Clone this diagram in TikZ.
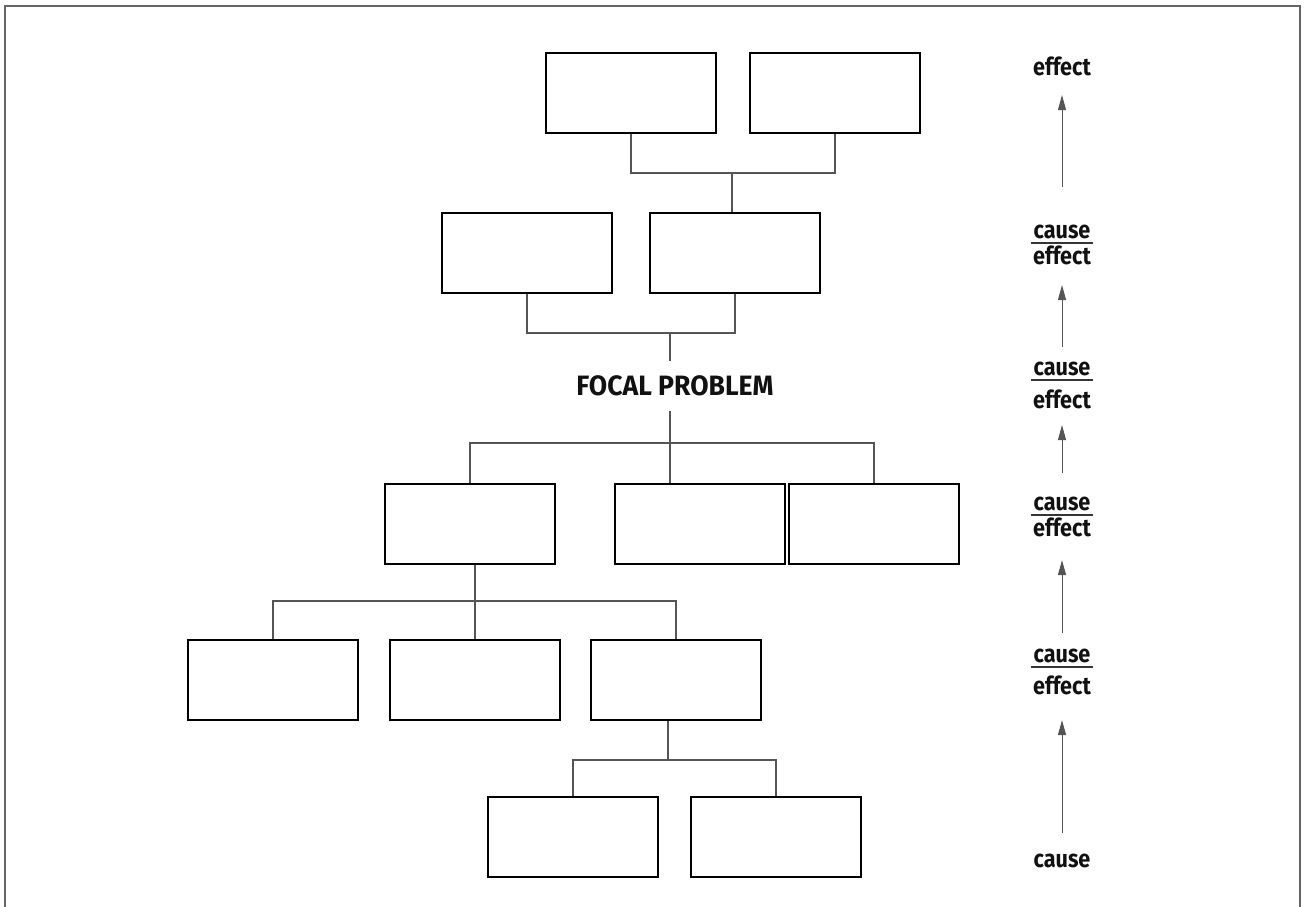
\documentclass[tikz,border=0pt]{standalone}
\usepackage{fontspec}
\setmainfont{Fira Sans}[FakeStretch=0.88]
\newfontfamily\headfont{Fira Sans}[FakeStretch=0.95]
\usetikzlibrary{arrows.meta,calc}
\definecolor{linegray}{HTML}{555555}
\definecolor{framegray}{HTML}{666666}
\definecolor{ink}{HTML}{111111}
\begin{document}
\begin{tikzpicture}[x=0.5pt,y=-0.5pt,
  box/.style={draw=black,line width=1.25pt,minimum width=85pt,minimum height=40pt,inner sep=0pt},
  conn/.style={draw=linegray,line width=0.6pt},
  arr/.style={draw=linegray,line width=0.5pt,-{Triangle[length=7.5pt,width=4pt]}},
  lab/.style={font=\bfseries\fontsize{12.3}{14}\selectfont,text=ink,inner sep=0pt,anchor=base},
  rulepen/.style={draw=ink!85,line width=0.7pt}
]
\useasboundingbox (0,0) rectangle (1308,906);
% outer frame (open at the bottom edge of the page)
\draw[framegray,line width=1pt] (5,930) -- (5,6) -- (1300,6) -- (1300,930);

% ---- effect boxes ----
\node[box] (A) at (631,93) {};
\node[box] (B) at (835,93) {};
\node[box] (C) at (527,253) {};
\node[box] (D) at (735,253) {};

% ---- focal problem ----
\node[font=\headfont\bfseries\fontsize{14}{16}\selectfont,text=ink,minimum height=25pt,inner sep=0pt] (focal) at (675,386) {FOCAL PROBLEM};

% ---- cause boxes ----
\node[box] (E) at (470,524) {};
\node[box] (F) at (700,524) {};
\node[box] (G) at (874,524) {};
\node[box] (H) at (273,680) {};
\node[box] (I) at (475,680) {};
\node[box] (J) at (676,680) {};
\node[box] (K) at (573,837) {};
\node[box] (L) at (776,837) {};

% ---- tree connectors ----
\coordinate (j1) at (732,173);
\draw[conn] (A.south) |- (j1) -| (B.south);
\draw[conn] (j1) -- (j1 |- D.north);

\coordinate (j2) at (670,333);
\draw[conn] (C.south) |- (j2) -| (D.south);
\draw[conn] (j2) -- (focal.north -| j2);

\coordinate (j3) at (670,443);
\draw[conn] (focal.south -| j3) -- (j3);
\draw[conn] (E.north) |- (j3) -| (G.north);
\draw[conn] (j3) -- (j3 |- F.north);

\coordinate (j4) at (475,601);
\draw[conn] (E.south -| j4) -- (j4);
\draw[conn] (H.north) |- (j4) -| (J.north);
\draw[conn] (j4) -- (I.north);

\coordinate (j5) at (668,760);
\draw[conn] (J.south -| j5) -- (j5);
\draw[conn] (K.north) |- (j5) -| (L.north);

% ---- cause / effect scale ----
\node[lab] (e0) at (1062,75) {effect};
\node[lab] (c1) at (1062,238) {cause};
\node[lab] (e1) at (1062,264) {effect};
\node[lab] (c2) at (1062,375) {cause};
\node[lab] (e2) at (1062,408) {effect};
\node[lab] (c3) at (1062,510) {cause};
\node[lab] (e3) at (1062,536) {effect};
\node[lab] (c4) at (1062,662) {cause};
\node[lab] (e4) at (1062,694) {effect};
\node[lab] (c5) at (1062,867) {cause};

\foreach \n in {c1,c2,c3,c4}
  \draw[rulepen] ($(\n.base)+(-31,5)$) -- ($(\n.base)+(31,5)$);

\draw[arr] ($(c1.base)+(0,-51)$) -- ($(e0.base)+(0,20)$);
\draw[arr] ($(c2.base)+(0,-28)$) -- ($(e1.base)+(0,21)$);
\draw[arr] ($(c3.base)+(0,-37)$) -- ($(e2.base)+(0,17)$);
\draw[arr] ($(c4.base)+(0,-29)$) -- ($(e3.base)+(0,24)$);
\draw[arr] ($(c5.base)+(0,-34)$) -- ($(e4.base)+(0,26)$);
\end{tikzpicture}
\end{document}
